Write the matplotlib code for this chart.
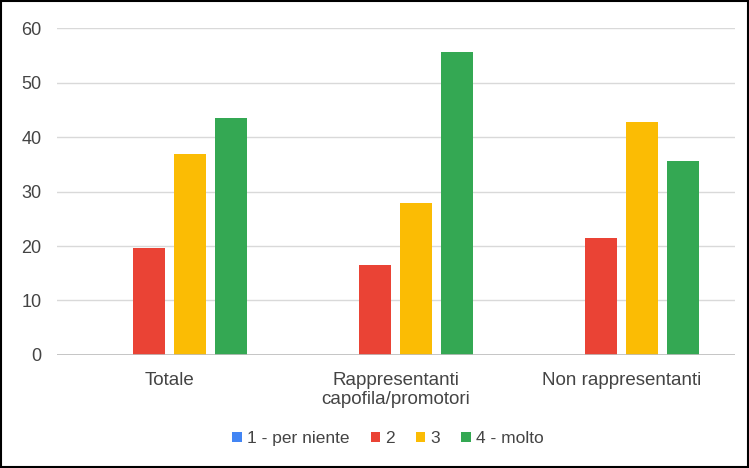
import numpy as np
import matplotlib

matplotlib.use("Agg")
import matplotlib.pyplot as plt
from matplotlib.patches import Rectangle

plt.rcParams.update({"font.family": ["Liberation Sans", "DejaVu Sans"]})

categories = ["Totale", "Rappresentanti\ncapofila/promotori", "Non rappresentanti"]
series = ["1 - per niente", "2", "3", "4 - molto"]
v1 = [0, 0, 0]
v2 = [19.6, 16.5, 21.5]
v3 = [36.9, 27.9, 42.8]
v4 = [43.5, 55.6, 35.6]
colors = ["#4285F4", "#EA4335", "#FBBC04", "#34A853"]
TXT = "#444444"

fig = plt.figure(figsize=(7.49, 4.68), dpi=100)
ax = fig.add_axes([0.076, 0.2415, 0.905, 0.6985])

x = np.arange(len(categories))
step = 0.181
w = 0.142
for i, (vals, c, lab) in enumerate(zip([v1, v2, v3, v4], colors, series)):
    ax.bar(x + (i - 1.5) * step, vals, width=w, color=c, label=lab, zorder=3)

ax.set_xlim(-0.5, 2.5)
ax.set_ylim(0, 60)
ax.set_yticks(range(0, 61, 10))
ax.grid(axis="y", color="#d9d9d9", linewidth=1, zorder=0)
ax.axhline(0, color="#bdbdbd", linewidth=1.2, zorder=4)
for s in ax.spines.values():
    s.set_visible(False)
ax.tick_params(length=0, colors=TXT, labelsize=13)
ax.tick_params(axis="y", pad=11)
ax.tick_params(axis="x", pad=12)
ax.set_xticks(x)
ax.set_xticklabels(categories, color=TXT, fontsize=13.5, linespacing=1.15)

leg = ax.legend(
    loc="center",
    bbox_to_anchor=(0.518, 0.0625),
    bbox_transform=fig.transFigure,
    ncol=4,
    frameon=False,
    fontsize=12.5,
    handlelength=0.55,
    handleheight=0.55,
    handletextpad=0.3,
    columnspacing=1.2,
)
for t in leg.get_texts():
    t.set_color(TXT)

fig.patches.append(
    Rectangle((0.002, 0.003), 0.996, 0.994, transform=fig.transFigure,
              fill=False, edgecolor="black", linewidth=1.5)
)

fig.savefig("out.png", dpi=100)
